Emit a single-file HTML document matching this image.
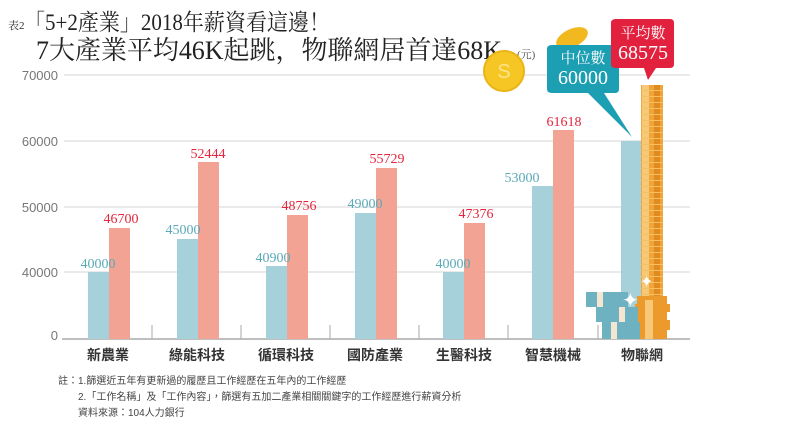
<!DOCTYPE html>
<html><head><meta charset="utf-8"><style>
body{margin:0;background:#fff;}
svg{display:block;font-family:"Liberation Serif","Noto Serif CJK SC",serif;}
.s{font-family:"Liberation Sans","Noto Sans CJK TC",sans-serif;}
</style></head><body>
<svg width="792" height="427" viewBox="0 0 792 427">
<defs>
<pattern id="coin" width="22" height="6" patternUnits="userSpaceOnUse">
<rect width="22" height="6" fill="#f0a53a"/>
<rect x="4" width="7" height="6" fill="#f7c878"/>
<rect x="16" width="6" height="6" fill="#e08a20"/>
<rect width="22" height="1" fill="#f5c060"/>
</pattern>
</defs>
<text x="8" y="29" font-size="11" fill="#333">表2</text>
<text x="24" y="30" font-size="23" fill="#222" textLength="306" lengthAdjust="spacingAndGlyphs">「5+2產業」2018年薪資看這邊！</text>
<text x="36" y="59" font-size="26" fill="#222" textLength="466" lengthAdjust="spacingAndGlyphs">7大產業平均46K起跳，物聯網居首達68K</text>
<text x="517" y="58" font-size="11" fill="#555">(元)</text>
<g stroke="#e4e4e4" stroke-width="1.5">
<line x1="64" y1="75" x2="690" y2="75"/>
<line x1="64" y1="141" x2="690" y2="141"/>
<line x1="64" y1="207" x2="690" y2="207"/>
<line x1="64" y1="272" x2="690" y2="272"/>
</g>
<line x1="62" y1="339" x2="690" y2="339" stroke="#999" stroke-width="1.2"/>
<g stroke="#aaa" stroke-width="1">
<line x1="152" y1="325" x2="152" y2="339"/><line x1="241" y1="325" x2="241" y2="339"/>
<line x1="330" y1="325" x2="330" y2="339"/><line x1="419" y1="325" x2="419" y2="339"/>
<line x1="508" y1="325" x2="508" y2="339"/><line x1="598" y1="325" x2="598" y2="339"/>
</g>
<g class="s" font-size="13" fill="#777" text-anchor="end">
<text x="58" y="80">70000</text><text x="58" y="146">60000</text>
<text x="58" y="212">50000</text><text x="58" y="277">40000</text><text x="58" y="340">0</text>
</g>
<g fill="#a6d0da">
<rect x="88" y="272" width="21" height="67"/>
<rect x="177" y="239" width="21" height="100"/>
<rect x="266" y="266" width="21" height="73"/>
<rect x="355" y="213" width="21" height="126"/>
<rect x="443" y="272" width="21" height="67"/>
<rect x="532" y="186" width="21" height="153"/>
<rect x="621" y="141" width="21" height="198"/>
</g>
<g fill="#f2a394">
<rect x="109" y="228" width="21" height="111"/>
<rect x="198" y="162" width="21" height="177"/>
<rect x="287" y="215" width="21" height="124"/>
<rect x="376" y="168" width="21" height="171"/>
<rect x="464" y="223" width="21" height="116"/>
<rect x="553" y="130" width="21" height="209"/>
</g>
<g font-size="14" fill="#5aa9b8" text-anchor="middle">
<text x="98" y="268">40000</text><text x="183" y="234">45000</text>
<text x="273" y="262">40900</text><text x="365" y="208">49000</text>
<text x="453" y="268">40000</text><text x="522" y="182">53000</text>
</g>
<g font-size="14" fill="#e4253d" text-anchor="middle">
<text x="121" y="223">46700</text><text x="208" y="158">52444</text>
<text x="299" y="210">48756</text><text x="387" y="163">55729</text>
<text x="476" y="218">47376</text><text x="564" y="126">61618</text>
</g>
<rect x="641" y="85" width="22" height="254" fill="url(#coin)"/>
<g fill="#ec9a2c">
<rect x="637" y="296" width="30" height="8"/><rect x="635" y="304" width="35" height="8"/>
<rect x="637" y="312" width="30" height="8"/><rect x="635" y="320" width="35" height="10"/>
<rect x="637" y="330" width="30" height="9"/>
</g>
<g fill="#f7c878"><rect x="645" y="300" width="8" height="39"/></g>
<g fill="#6eb2c2">
<rect x="586" y="292" width="42" height="15"/>
<rect x="596" y="307" width="42" height="15"/>
<rect x="602" y="322" width="38" height="17"/>
</g>
<g fill="#f4e6d0"><rect x="597" y="292" width="6" height="15"/><rect x="619" y="307" width="6" height="15"/><rect x="611" y="322" width="6" height="17"/></g>
<text x="622" y="307" font-size="20" fill="#fff">✦</text>
<text x="640" y="287" font-size="16" fill="#fff">✦</text>
<circle cx="504" cy="71" r="20" fill="#f6c624" stroke="#eab516" stroke-width="2"/>
<text x="504" y="78" font-size="20" fill="#fde58a" text-anchor="middle" class="s">S</text>
<ellipse cx="572" cy="38" rx="17" ry="9" fill="#f2b820" transform="rotate(-25 572 38)"/>
<path d="M552 45 H615 Q619 45 619 49 V89 Q619 93 615 93 H604 L632 137 L588 93 H552 Q547 93 547 89 V49 Q547 45 552 45Z" fill="#1d9fb3"/>
<text x="583" y="63" font-size="15" fill="#fff" text-anchor="middle">中位數</text>
<text x="583" y="84" font-size="20" fill="#fff" text-anchor="middle">60000</text>
<path d="M616 19 H670 Q674 19 674 23 V64 Q674 68 670 68 H656 L648 80 L644 68 H616 Q611 68 611 64 V23 Q611 19 616 19Z" fill="#e2213e"/>
<text x="643" y="38" font-size="15" fill="#fff" text-anchor="middle">平均數</text>
<text x="643" y="59" font-size="20" fill="#fff" text-anchor="middle">68575</text>
<g class="s" font-size="14" font-weight="bold" fill="#333" text-anchor="middle">
<text x="108" y="360">新農業</text><text x="197" y="360">綠能科技</text>
<text x="286" y="360">循環科技</text><text x="375" y="360">國防產業</text>
<text x="464" y="360">生醫科技</text><text x="553" y="360">智慧機械</text>
<text x="642" y="360">物聯網</text>
</g>
<g class="s" font-size="10" fill="#444">
<text x="58" y="384">註：1.篩選近五年有更新過的履歷且工作經歷在五年內的工作經歷</text>
<text x="78" y="400">2.「工作名稱」及「工作內容」，篩選有五加二產業相關關鍵字的工作經歷進行薪資分析</text>
<text x="78" y="416">資料來源：104人力銀行</text>
</g>
</svg>
</body></html>
